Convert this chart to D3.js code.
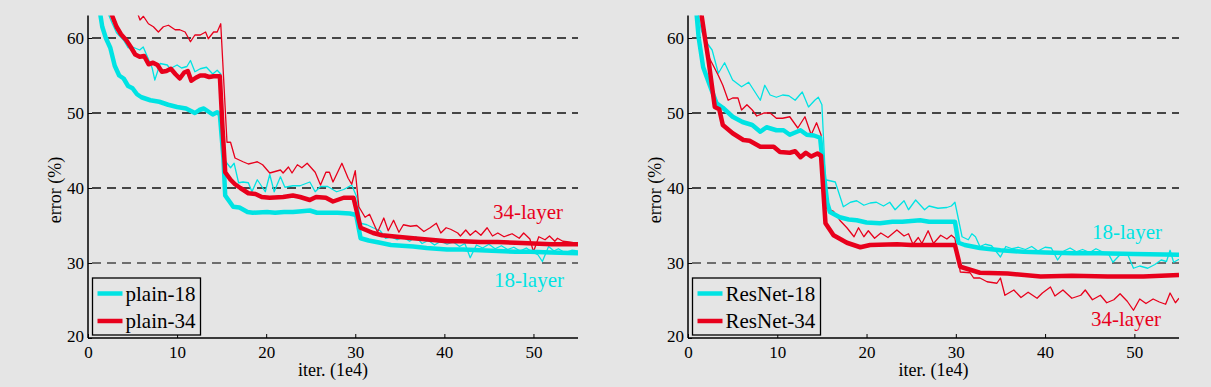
<!DOCTYPE html>
<html><head><meta charset="utf-8">
<script src="https://cdn.jsdelivr.net/npm/d3@7"></script>
<style>
html,body{margin:0;padding:0;background:#e5e5e5;}
svg{display:block;}
text{font-family:"Liberation Serif","Times New Roman",serif;}
</style></head>
<body>
<svg id="chart" width="1211" height="387"></svg>
<script>
// ---------- DATA ----------
const xTicks = [0, 10, 20, 30, 40, 50];
const yTicks = [20, 30, 40, 50, 60];
const gridValues = [30, 40, 50, 60];
const xLabel = "iter. (1e4)";
const yLabel = "error (%)";

// plain networks: [iter (1e4), error %]
const plain18Train = [[2.0,64],[2.7,62],[3.2,60.7],[4.0,59.7],[4.5,58.7],[5.0,58.8],[5.8,58.4],[6.2,58.8],[7.2,56.0],[7.5,54.4],[8.1,56.6],[8.9,56.4],[9.2,55.9],[10.0,56.4],[10.5,56.0],[11.1,56.2],[11.5,57.0],[12.0,55.5],[12.6,55.9],[13.3,56.1],[14.0,55.2],[14.5,55.7],[14.9,55.2],[15.2,44.1],[15.6,43.3],[16.0,42.7],[16.4,43.3],[16.9,40.7],[17.4,40.8],[18.0,40.7],[18.4,39.5],[19.0,41.1],[19.9,39.5],[20.4,41.8],[20.9,39.5],[21.6,41.5],[22.1,40.1],[23.0,40.3],[23.8,40.3],[24.9,40.8],[25.5,39.5],[26.1,40.2],[26.9,40.2],[27.9,39.5],[28.7,39.8],[29.6,40.4],[30.2,38.7],[30.6,35.3],[31.3,35.1],[32.0,34.7],[32.8,34.3],[33.4,33.3],[34.0,33.5],[34.7,33.1],[35.4,33.4],[36.1,32.9],[36.8,33.5],[37.5,32.6],[38.2,33.0],[38.9,32.4],[39.6,32.9],[40.3,32.5],[41.0,32.8],[41.7,32.2],[42.3,32.6],[42.9,30.7],[43.6,32.4],[44.3,32.0],[45.0,32.5],[45.7,31.9],[46.4,32.3],[47.1,31.8],[47.8,32.1],[48.5,31.6],[49.2,32.0],[49.8,31.5],[50.5,31.1],[51.0,30.2],[51.7,32.2],[52.3,31.6],[52.8,31.9],[53.5,31.4],[54.3,31.7],[55.0,31.6]];
const plain34Train = [[5.2,64.5],[5.84,62.4],[6.22,62.9],[6.78,61.9],[7.34,61.5],[7.9,60.8],[8.46,61.5],[9.03,61.7],[9.78,61.1],[10.3,61.1],[10.9,60.8],[11.5,59.5],[12.0,60.4],[12.6,60.4],[13.2,60.8],[13.5,59.9],[14.1,60.8],[14.5,60.8],[14.9,61.9],[15.6,46.1],[16.0,46.1],[16.5,44.0],[17.4,43.5],[18.0,43.2],[19.0,43.5],[19.6,43.1],[20.4,42.0],[21.6,42.4],[21.9,42.0],[22.5,42.8],[22.9,42.0],[23.5,43.1],[24.0,42.7],[24.6,43.3],[25.5,42.1],[26.1,40.4],[26.7,42.1],[27.1,42.1],[27.5,40.8],[28.5,43.3],[29.2,41.3],[29.6,40.5],[30.0,42.3],[30.4,37.5],[31.1,36.1],[31.6,36.5],[32.5,34.1],[33.2,36.0],[33.7,34.3],[34.3,35.7],[34.9,34.1],[35.4,35.1],[36.2,34.9],[36.9,35.0],[37.7,34.2],[38.4,34.7],[39.1,35.3],[39.6,34.0],[40.2,34.7],[40.7,34.5],[41.5,34.0],[41.8,33.6],[42.4,34.4],[42.9,33.7],[43.5,34.3],[44.1,33.7],[44.8,34.7],[45.4,33.6],[46.0,34.0],[46.7,33.5],[47.6,33.9],[48.4,33.3],[48.9,34.0],[49.6,33.2],[50.0,31.5],[50.6,33.5],[51.3,33.1],[51.8,33.6],[52.4,32.9],[52.7,33.3],[53.3,32.9],[54.0,32.8],[55.0,32.6]];
const plain18Val = [[1.0,66],[1.6,61.5],[2.0,60],[2.5,58.7],[3.0,56.3],[3.5,55.0],[4.0,54.6],[4.5,53.6],[5.0,53.3],[5.5,52.5],[6.0,52.1],[7.0,51.7],[8.0,51.5],[9.0,51.1],[10.0,50.8],[10.5,50.7],[11.0,50.6],[11.5,50.3],[12.0,50.0],[12.5,50.4],[13.0,50.6],[13.5,50.2],[14.0,49.8],[14.5,50.1],[14.8,49.8],[15.2,44.0],[15.4,39.0],[16.0,38.0],[16.3,37.5],[17.0,37.4],[17.9,36.8],[18.5,36.7],[20.1,36.8],[21.0,36.7],[22.0,36.8],[23.0,36.8],[24.0,36.9],[24.9,37.0],[25.7,36.7],[27.0,36.7],[28.0,36.7],[29.4,36.6],[30.1,36.4],[30.6,33.3],[31.5,33.0],[32.8,32.7],[34.0,32.4],[36.5,32.2],[38.0,32.0],[40.3,31.8],[42.1,31.8],[44.0,31.7],[46.0,31.6],[48.0,31.5],[49.7,31.5],[52.0,31.4],[55.0,31.3]];
const plain34Val = [[2.3,65],[2.7,63],[3.2,61.5],[3.7,60.5],[4.3,59.7],[4.8,58.8],[5.3,57.8],[5.8,57.5],[6.3,57.6],[6.8,56.5],[7.3,56.7],[7.8,56.4],[8.3,55.5],[8.8,55.6],[9.3,55.9],[9.8,55.2],[10.3,54.6],[10.8,55.4],[11.2,55.6],[11.6,54.3],[12.1,54.7],[12.6,55.0],[13.1,55.0],[13.6,54.8],[14.1,54.9],[14.8,54.9],[15.1,48.0],[15.4,42.1],[16.0,41.1],[16.5,40.5],[17.1,40.0],[18.0,39.3],[18.8,39.2],[19.5,38.8],[20.4,38.7],[21.9,38.8],[23.0,39.0],[23.8,38.8],[24.9,38.4],[25.6,38.8],[26.7,38.7],[27.5,38.2],[28.7,38.7],[29.8,38.7],[30.6,34.7],[32.0,34.0],[33.0,33.7],[34.7,33.5],[36.5,33.3],[38.4,33.1],[40.3,32.9],[42.0,32.9],[44.0,32.8],[46.0,32.8],[48.0,32.7],[50.0,32.6],[52.0,32.5],[55.0,32.5]];

// residual networks
const res18Train = [[1.0,64],[1.5,61],[1.9,59.7],[2.7,58.4],[3.4,55.3],[4.1,56.7],[5.0,54.4],[6.0,53.5],[6.8,54.1],[8.1,51.7],[8.6,53.7],[9.2,52.4],[9.9,52.1],[10.6,52.4],[11.3,52.3],[12.0,51.7],[12.8,52.8],[13.5,50.8],[14.2,51.7],[14.6,52.1],[15.0,51.1],[15.4,41.1],[16.5,40.8],[17.4,37.5],[18.2,38.1],[18.9,38.3],[19.7,37.7],[20.4,38.0],[21.1,38.1],[21.9,37.6],[22.6,38.1],[23.2,37.1],[24.2,38.3],[24.7,37.1],[25.5,38.4],[26.5,37.1],[27.0,37.6],[28.0,37.3],[29.0,37.4],[29.5,37.6],[29.9,38.1],[30.7,33.5],[31.4,33.1],[31.8,33.9],[32.2,33.5],[32.7,32.2],[33.3,32.5],[34.0,32.3],[35.0,30.8],[35.6,32.2],[36.3,31.9],[37.0,32.1],[37.8,31.8],[38.5,32.2],[39.2,31.6],[40.0,32.1],[40.7,32.0],[41.4,30.4],[42.1,31.6],[42.8,32.0],[43.5,31.5],[44.2,31.8],[45.0,31.4],[45.7,31.9],[46.4,31.5],[47.1,31.2],[47.6,30.1],[48.3,31.0],[49.2,31.3],[49.9,29.3],[50.6,29.6],[51.5,29.3],[52.3,29.8],[53.0,30.4],[53.6,30.2],[54.0,31.7],[54.4,30.1],[55.0,30.5]];
const res34Train = [[1.3,64],[1.6,62],[2.1,58],[2.8,56.4],[3.4,55],[3.9,53.7],[4.5,51.7],[5.0,52.0],[5.6,52.0],[6.0,50.4],[6.6,51.1],[7.2,50.4],[7.7,49.6],[8.5,50.0],[9.2,50.0],[9.9,49.3],[10.6,49.3],[11.4,49.5],[12.3,48.0],[13.1,49.5],[13.8,47.1],[14.4,48.7],[14.9,47.1],[15.5,37.3],[16.3,36.9],[17.0,35.7],[17.8,34.7],[18.6,33.5],[19.1,34.7],[19.7,33.5],[20.2,34.3],[20.9,33.3],[21.6,34.0],[22.4,33.4],[23.4,34.4],[24.2,33.6],[24.7,33.9],[25.2,32.5],[25.8,33.4],[26.2,32.6],[26.9,34.3],[27.5,32.6],[28.3,33.7],[29.0,33.2],[29.5,33.7],[29.9,33.3],[30.5,28.8],[31.6,28.7],[32.0,28.0],[32.7,28.0],[33.5,27.5],[34.6,27.3],[35.0,28.0],[35.5,25.7],[36.5,26.4],[37.3,25.4],[38.1,26.1],[39.1,25.3],[39.7,26.0],[40.6,26.8],[41.1,25.6],[42.0,26.4],[43.0,25.3],[44.0,25.7],[44.5,26.4],[45.3,25.1],[46.2,25.7],[46.9,24.7],[47.7,25.1],[48.4,25.9],[49.2,24.9],[49.9,23.7],[50.6,25.2],[51.3,24.6],[52.1,25.2],[52.8,24.8],[53.5,24.5],[54.0,26.0],[54.6,24.7],[55.0,25.3]];
const res18Val = [[0.9,64],[1.2,60],[1.7,56.1],[2.5,53.5],[3.2,51.3],[3.9,50.7],[5.0,49.5],[6.1,48.8],[7.2,48.4],[8.1,47.5],[8.8,48.1],[9.9,47.7],[10.7,47.7],[11.4,47.1],[12.6,47.7],[13.3,47.1],[14.1,47.0],[14.8,46.7],[15.2,42.0],[15.6,38.0],[15.9,36.8],[17.0,36.1],[18.0,35.8],[18.9,35.7],[20.0,35.4],[21.5,35.3],[22.9,35.5],[24.0,35.5],[26.0,35.7],[27.0,35.5],[28.3,35.5],[29.9,35.5],[30.3,32.7],[31.0,32.4],[32.7,32.0],[35.0,31.7],[37.6,31.5],[40.0,31.4],[43.2,31.3],[46.0,31.3],[50.0,31.2],[55.0,31.1]];
const res34Val = [[1.4,64],[1.9,60],[2.3,57],[3.0,50.8],[3.5,50.5],[3.9,48.4],[5.0,47.3],[6.2,46.4],[6.9,46.3],[8.1,45.5],[9.6,45.5],[10.3,44.8],[11.4,44.7],[12.0,44.9],[12.6,44.1],[13.2,44.7],[13.8,44.2],[14.5,44.6],[14.9,44.3],[15.4,35.3],[16.3,33.7],[17.8,32.7],[19.3,32.1],[20.4,32.4],[23.4,32.5],[25.0,32.4],[27.1,32.4],[29.9,32.4],[30.5,29.5],[32.7,28.7],[35.8,28.6],[39.5,28.2],[43.0,28.3],[47.0,28.2],[51.0,28.2],[55.0,28.4]];

const leftLegend = ["plain-18", "plain-34"];
const rightLegend = ["ResNet-18", "ResNet-34"];
const annotations18 = "18-layer";
const annotations34 = "34-layer";

// ---------- DRAWING ----------
const CYAN = "#00e3e3", RED = "#e8001c";
const svg = d3.select("#chart");

function panel(cfg){
  const g = svg.append("g");
  const x = d3.scaleLinear().domain([0,55]).range([cfg.x0, cfg.x1]);
  const y = d3.scaleLinear().domain([20,63]).range([338, 15.5]);
  const clipId = "clip" + cfg.id;
  svg.append("clipPath").attr("id", clipId).append("rect")
    .attr("x", cfg.x0).attr("y", y(63)).attr("width", cfg.x1 - cfg.x0).attr("height", y(20)-y(63));

  // grid
  g.selectAll(".grid").data(gridValues).enter().append("line")
    .attr("x1", cfg.x0+4).attr("x2", cfg.x1)
    .attr("y1", d=>y(d)).attr("y2", d=>y(d))
    .attr("stroke", d=> d===30 ? "#6e6e6e" : "#111")
    .attr("stroke-width", d=> d===30 ? 2 : 1.3)
    .attr("stroke-dasharray", "9,6");

  const line = d3.line().x(d=>x(d[0])).y(d=>y(d[1]));
  const lg = g.append("g").attr("clip-path", `url(#${clipId})`);
  const series = [
    [cfg.train18, CYAN, 1.3],
    [cfg.train34, RED, 1.3],
    [cfg.val18, CYAN, 4.5],
    [cfg.val34, RED, 4.5]
  ];
  series.forEach(s=>{
    lg.append("path").datum(s[0]).attr("d", line)
      .attr("fill","none").attr("stroke", s[1]).attr("stroke-width", s[2])
      .attr("stroke-linejoin","round");
  });

  // axes
  const xAxis = d3.axisBottom(x).tickValues(xTicks).tickSize(-4).tickPadding(8).tickFormat(d3.format("d"));
  const yAxis = d3.axisLeft(y).tickValues(yTicks).tickSize(-4).tickPadding(4).tickFormat(d3.format("d"));
  const xg = g.append("g").attr("transform", `translate(0,${y(20)})`).call(xAxis);
  const yg = g.append("g").attr("transform", `translate(${cfg.x0},0)`).call(yAxis);
  [xg, yg].forEach(a=>{
    a.select(".domain").attr("stroke","#000").attr("stroke-width",1.5).attr("d", null);
    a.selectAll(".tick line").attr("stroke","#000").attr("stroke-width",1);
    a.selectAll("text").attr("font-family","Liberation Serif").attr("font-size",17).attr("fill","#000");
  });
  xg.select(".domain").remove();
  yg.select(".domain").remove();
  g.append("line").attr("x1", cfg.x0).attr("x2", cfg.x1).attr("y1", y(20)).attr("y2", y(20)).attr("stroke","#000").attr("stroke-width",1.5);
  g.append("line").attr("x1", cfg.x0).attr("x2", cfg.x0).attr("y1", y(20)).attr("y2", y(63)).attr("stroke","#000").attr("stroke-width",1.5);
  yg.selectAll(".tick text").attr("dy", "0.34em");
  yg.selectAll(".tick").filter(d=>d===20).select("text").attr("dy","0.2em");

  // axis labels
  g.append("text").attr("x", (cfg.x0+cfg.x1)/2).attr("y", 376).attr("text-anchor","middle")
    .attr("font-size",18).text(xLabel);
  g.append("text").attr("transform", `translate(${cfg.x0-27},190) rotate(-90)`).attr("text-anchor","middle")
    .attr("font-size",18).text(yLabel);

  // legend
  const lx = cfg.x0 + 4.5;
  const lw = cfg.legendW;
  g.append("rect").attr("x", lx).attr("y", 278).attr("width", lw).attr("height", 57)
    .attr("fill","#e5e5e5").attr("stroke","#000").attr("stroke-width",1.3);
  cfg.legend.forEach((name,i)=>{
    const cy = 293.5 + i*27.5;
    g.append("line").attr("x1", lx+5).attr("x2", lx+30).attr("y1", cy).attr("y2", cy)
      .attr("stroke", i===0?CYAN:RED).attr("stroke-width",4.5);
    g.append("text").attr("x", lx+33).attr("y", cy+7).attr("font-size",21).attr("fill","#000").text(name);
  });

  // annotations
  g.append("text").attr("x", cfg.a18[0]).attr("y", cfg.a18[1]).attr("font-size",21).attr("fill",CYAN).text(annotations18);
  g.append("text").attr("x", cfg.a34[0]).attr("y", cfg.a34[1]).attr("font-size",21).attr("fill",RED).text(annotations34);
}

panel({id:"L", x0:88, x1:578, train18:plain18Train, train34:plain34Train, val18:plain18Val, val34:plain34Val,
  legend:leftLegend, legendW:108, a18:[494,287], a34:[493,219]});
panel({id:"R", x0:688, x1:1179, train18:res18Train, train34:res34Train, val18:res18Val, val34:res34Val,
  legend:rightLegend, legendW:128, a18:[1092,239], a34:[1091,326]});
</script>
</body></html>
